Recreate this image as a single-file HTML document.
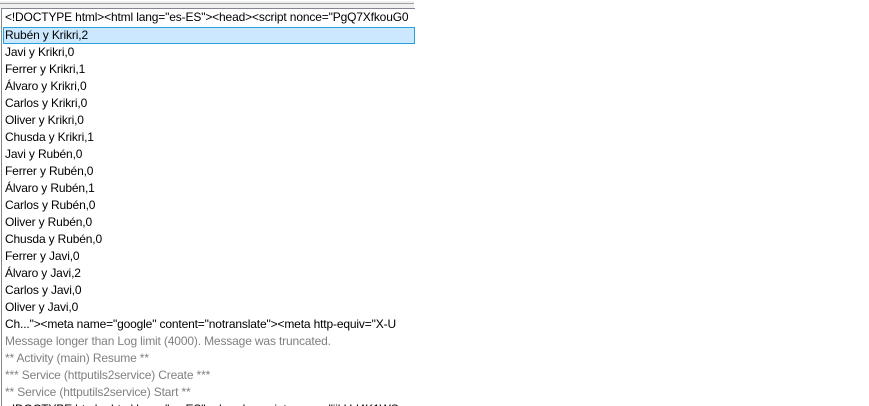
<!DOCTYPE html>
<html><head><style>
html,body{margin:0;padding:0;width:869px;height:405px;overflow:hidden;background:#fff;}
.top{position:absolute;left:0;top:0;width:414px;height:8px;background:#f0f0f0;border-top:1px solid #fff;}
.top:after{content:"";position:absolute;left:0;top:2px;width:414px;height:1px;background:#a0a0a0;}
.panel{position:absolute;left:1px;top:8px;width:413px;height:397px;border-left:1px solid #828790;border-top:1px solid #828790;overflow:hidden;background:#fff;}
.row{position:absolute;left:1px;height:17px;line-height:17px;font:12px "Liberation Sans",sans-serif;color:#000;white-space:nowrap;padding-left:2px;width:420px;letter-spacing:-0.15px;}
.sel{background:#cce8ff;border:1px solid #26a0da;box-sizing:border-box;line-height:15px;padding-left:1px;width:412px;}
.g{color:#808080;}
</style></head><body>
<div class="top"></div>
<div class="panel">
<div class="row" style="top:1px">&lt;!DOCTYPE html&gt;&lt;html lang="es-ES"&gt;&lt;head&gt;&lt;script nonce="PgQ7XfkouG0</div>
<div class="row sel" style="top:18px">Rubén y Krikri,2</div>
<div class="row" style="top:36px">Javi y Krikri,0</div>
<div class="row" style="top:53px">Ferrer y Krikri,1</div>
<div class="row" style="top:70px">Álvaro y Krikri,0</div>
<div class="row" style="top:87px">Carlos y Krikri,0</div>
<div class="row" style="top:104px">Oliver y Krikri,0</div>
<div class="row" style="top:121px">Chusda y Krikri,1</div>
<div class="row" style="top:138px">Javi y Rubén,0</div>
<div class="row" style="top:155px">Ferrer y Rubén,0</div>
<div class="row" style="top:172px">Álvaro y Rubén,1</div>
<div class="row" style="top:189px">Carlos y Rubén,0</div>
<div class="row" style="top:206px">Oliver y Rubén,0</div>
<div class="row" style="top:223px">Chusda y Rubén,0</div>
<div class="row" style="top:240px">Ferrer y Javi,0</div>
<div class="row" style="top:257px">Álvaro y Javi,2</div>
<div class="row" style="top:274px">Carlos y Javi,0</div>
<div class="row" style="top:291px">Oliver y Javi,0</div>
<div class="row" style="top:308px">Ch..."&gt;&lt;meta name="google" content="notranslate"&gt;&lt;meta http-equiv="X-U</div>
<div class="row g" style="top:325px">Message longer than Log limit (4000). Message was truncated.</div>
<div class="row g" style="top:342px">** Activity (main) Resume **</div>
<div class="row g" style="top:359px">*** Service (httputils2service) Create ***</div>
<div class="row g" style="top:376px">** Service (httputils2service) Start **</div>
<div class="row" style="top:393px">&lt;!DOCTYPE html&gt;&lt;html lang="es-ES"&gt;&lt;head&gt;&lt;script nonce="jjkUd4K1WS</div>
</div>
</body></html>
